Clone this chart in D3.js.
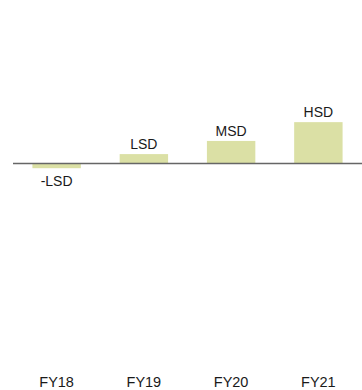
<!DOCTYPE html>
<html>
<head>
<meta charset="utf-8">
<script src="https://cdn.jsdelivr.net/npm/d3@7"></script>
<style>
  body { margin: 0; background: #fff; }
  svg { display: block; font-family: "Liberation Sans", Arial, sans-serif; }
</style>
</head>
<body>
<svg id="chart" width="362" height="390"></svg>
<script>
// --- Data ---
const years = ["FY18", "FY19", "FY20", "FY21"];
const values = [-0.5, 1, 2.4, 4.4];
const labels = ["-LSD", "LSD", "MSD", "HSD"];

const data = years.map((y, i) => ({ year: y, value: values[i], label: labels[i] }));

// --- Chart ---
const svg = d3.select("#chart"),
  w = +svg.attr("width"),
  h = +svg.attr("height");

const x = d3.scaleBand().domain(years).range([13, 362]).paddingInner(0.445).paddingOuter(0.2225);
const y = d3.scaleLinear().domain([-20, 16]).range([351.5, 13.1]);

svg.append("g")
  .selectAll("rect")
  .data(data)
  .join("rect")
  .attr("x", (d) => x(d.year))
  .attr("width", x.bandwidth())
  .attr("y", (d) => y(Math.max(0, d.value)))
  .attr("height", (d) => Math.abs(y(d.value) - y(0)))
  .attr("fill", "#dbe0a5");

// zero line
svg.append("line")
  .attr("x1", 13)
  .attr("x2", w)
  .attr("y1", y(0))
  .attr("y2", y(0))
  .attr("stroke", "#666")
  .attr("stroke-width", 1.5);

// value labels
svg.append("g")
  .selectAll("text")
  .data(data)
  .join("text")
  .attr("x", (d) => x(d.year) + x.bandwidth() / 2)
  .attr("y", (d) => (d.value >= 0 ? y(d.value) - 5 : y(d.value) + 18))
  .attr("text-anchor", "middle")
  .attr("font-size", 14)
  .attr("fill", "#1a1a1a")
  .text((d) => d.label);

// category axis
svg.append("g")
  .selectAll("text")
  .data(years)
  .join("text")
  .attr("x", (d) => x(d) + x.bandwidth() / 2)
  .attr("y", 387)
  .attr("text-anchor", "middle")
  .attr("font-size", 14.5)
  .attr("fill", "#1a1a1a")
  .text((d) => d);
</script>
</body>
</html>
